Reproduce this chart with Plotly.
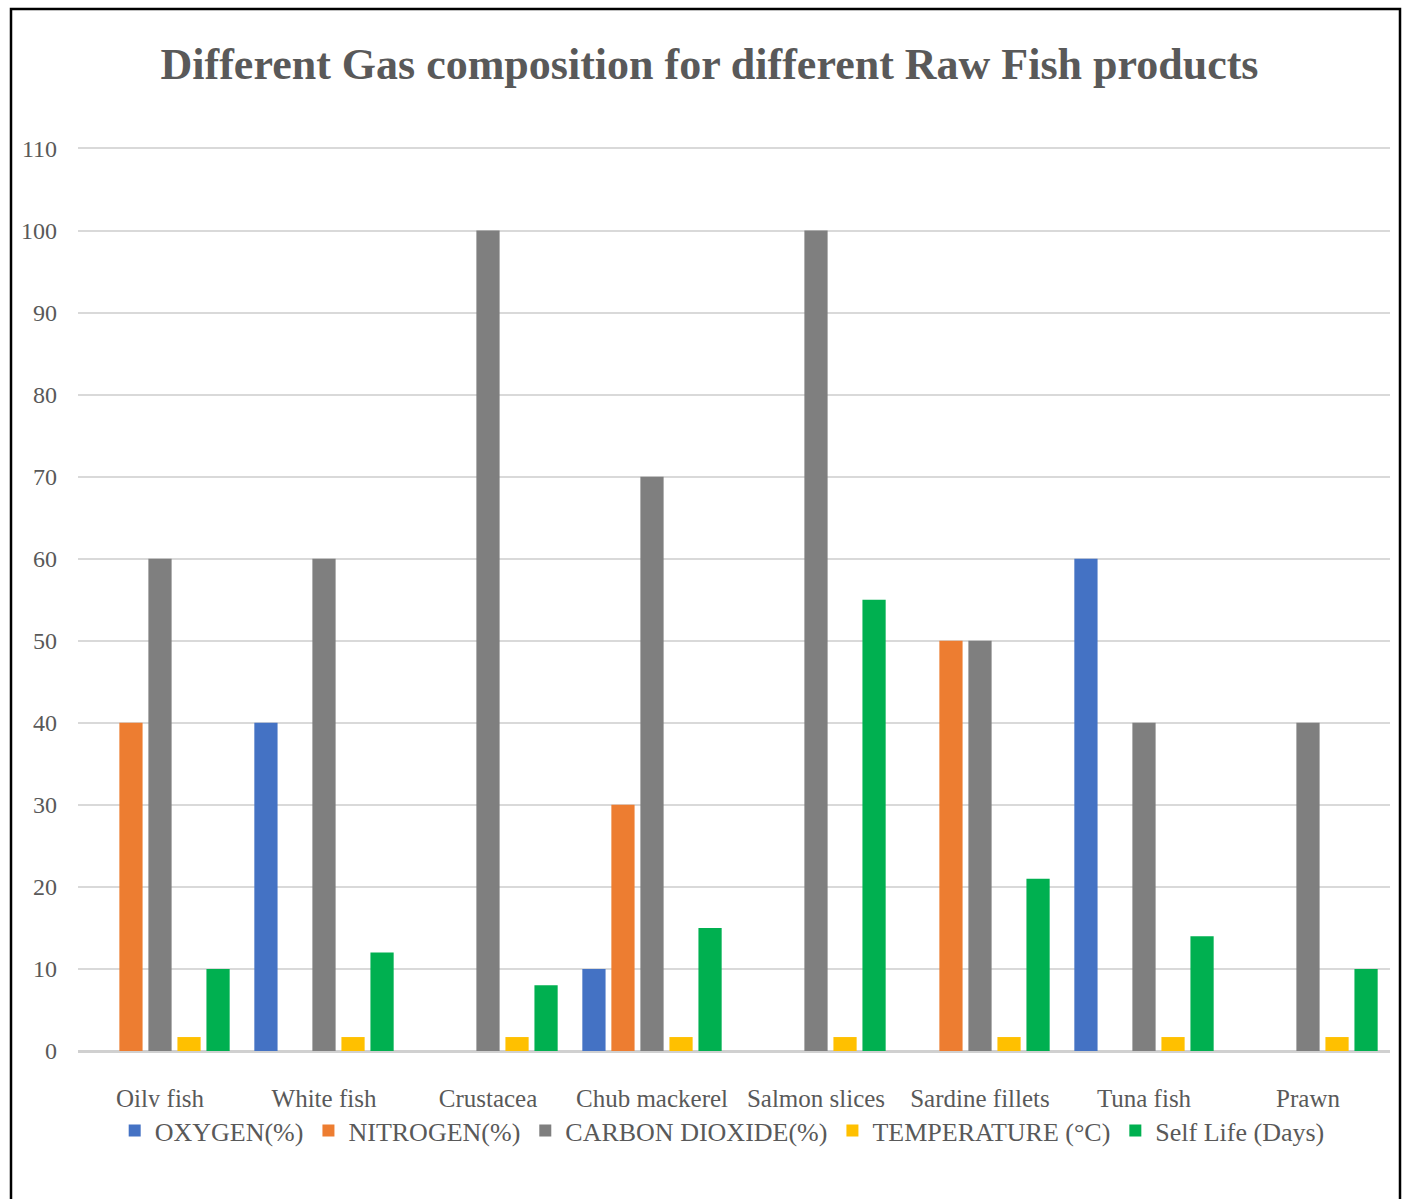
import plotly.graph_objects as go

categories = ["Oily fish", "White fish", "Crustacea", "Chub mackerel", "Salmon slices",
              "Sardine fillets", "Tuna fish", "Prawn"]
oxygen = [0, 40, 0, 10, 0, 0, 60, 0]
nitrogen = [40, 0, 0, 30, 0, 50, 0, 0]
carbon_dioxide = [60, 60, 100, 70, 100, 50, 40, 40]
temperature = [1.7, 1.7, 1.7, 1.7, 1.7, 1.7, 1.7, 1.7]
self_life = [10, 12, 8, 15, 55, 21, 14, 10]
y_ticks = [0, 10, 20, 30, 40, 50, 60, 70, 80, 90, 100, 110]

series = [
    ("OXYGEN(%)", oxygen, "#4472C4"),
    ("NITROGEN(%)", nitrogen, "#ED7D31"),
    ("CARBON DIOXIDE(%)", carbon_dioxide, "#7F7F7F"),
    ("TEMPERATURE (°C)", temperature, "#FFC000"),
    ("Self Life (Days)", self_life, "#00B050"),
]

fig = go.Figure()
for name, vals, color in series:
    fig.add_trace(go.Bar(name=name, x=categories, y=vals, marker=dict(color=color, line=dict(width=0))))

font_family = "Liberation Serif, Times New Roman, serif"
fig.update_layout(
    width=1405, height=1199,
    paper_bgcolor="white", plot_bgcolor="white",
    margin=dict(l=78, r=15, t=146, b=148),
    barmode="group", bargap=0.115, bargroupgap=0.2,
    title=dict(text="<b>Different Gas composition for different Raw Fish products</b>",
               x=0.505, xanchor="center", xref="container", y=0.947, yanchor="middle",
               font=dict(family=font_family, size=44, color="#595959")),
    font=dict(family=font_family, color="#595959"),
    legend=dict(orientation="h", x=0.491, xanchor="center", y=-0.062, yanchor="top",
                font=dict(family=font_family, size=26, color="#595959"),
                itemsizing="constant", traceorder="normal"),
    showlegend=True,
)
fig.update_yaxes(range=[0, 110.3], tickvals=y_ticks, showgrid=True, gridcolor="#D9D9D9", gridwidth=1.5,
                 zeroline=True, zerolinecolor="#D0D0D0", zerolinewidth=3,
                 tickfont=dict(family=font_family, size=24, color="#595959"), ticks="", ticklabelstandoff=20)
fig.update_xaxes(showgrid=False, tickfont=dict(family=font_family, size=25, color="#595959"),
                 ticks="", ticklabelstandoff=30)

# outer frame
fig.add_shape(type="rect", xref="paper", yref="paper",
              x0=(11 - 78) / 1312, x1=(1400 - 78) / 1312,
              y0=-(1210 - 1051) / 905, y1=(1051 - 9) / 905,
              line=dict(color="black", width=2.5), fillcolor="rgba(0,0,0,0)", layer="above")

fig.write_html("out.html")
